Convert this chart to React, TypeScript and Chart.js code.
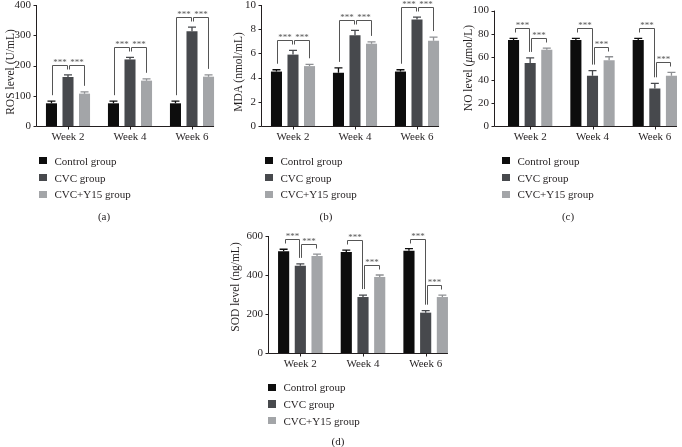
import React, { useEffect, useRef } from 'react';
import { Chart, registerables } from 'chart.js';

Chart.register(...registerables);

const FONT = '"Liberation Serif", "Times New Roman", serif';
const TEXT_COLOR = '#231f20';

const WEEKS = ['Week 2', 'Week 4', 'Week 6'];
const GROUPS = ['Control group', 'CVC group', 'CVC+Y15 group'];
const GROUP_COLORS = ['#0d0d0d', '#47494d', '#a3a5a8'];
const ERROR_COLORS = ['#0d0d0d', '#47494d', '#8e9093'];

// (a) ROS level (U/mL)
const ROS_CONTROL = [75, 75, 75];
const ROS_CVC = [162, 220, 313];
const ROS_Y15 = [107, 150, 163];
const ROS_ERR_CONTROL = [7, 7, 7];
const ROS_ERR_CVC = [7, 7, 14];
const ROS_ERR_Y15 = [6, 6, 6];

// (b) MDA (nmol/mL)
const MDA_CONTROL = [4.5, 4.4, 4.5];
const MDA_CVC = [5.9, 7.5, 8.8];
const MDA_Y15 = [4.95, 6.8, 7.05];
const MDA_ERR_CONTROL = [0.15, 0.4, 0.15];
const MDA_ERR_CVC = [0.35, 0.4, 0.2];
const MDA_ERR_Y15 = [0.15, 0.15, 0.3];

// (c) NO level (μmol/L)
const NO_CONTROL = [74.5, 74.5, 74.5];
const NO_CVC = [54.5, 43.5, 32.5];
const NO_Y15 = [66, 57, 43.5];
const NO_ERR_CONTROL = [1.5, 1.5, 1.5];
const NO_ERR_CVC = [4.5, 4.5, 4.5];
const NO_ERR_Y15 = [1.5, 3, 3];

// (d) SOD level (ng/mL)
const SOD_CONTROL = [522, 518, 525];
const SOD_CVC = [447, 287, 207];
const SOD_Y15 = [497, 390, 287];
const SOD_ERR_CONTROL = [10, 10, 10];
const SOD_ERR_CVC = [10, 10, 10];
const SOD_ERR_Y15 = [10, 10, 10];

// significance comparisons within each week (dataset index pairs)
const COMPARISONS = [[0, 1], [1, 2]];
const SIG_LABEL = '***';

const PANELS = [
  {
    key: 'a', title: <>ROS level (U/mL)</>, label: '(a)',
    values: [ROS_CONTROL, ROS_CVC, ROS_Y15], errors: [ROS_ERR_CONTROL, ROS_ERR_CVC, ROS_ERR_Y15],
    max: 400, step: 100,
    chartLeft: 37, chartRight: 223, chartTop: 5, chartBottom: 126, axisGap: 0,
    titleX: 10, titleY: 72, legendX: 39, legendY: 160.7, legendStep: 16.8, labelX: 104, labelY: 215.5,
  },
  {
    key: 'b', title: <>MDA (nmol/mL)</>, label: '(b)',
    values: [MDA_CONTROL, MDA_CVC, MDA_Y15], errors: [MDA_ERR_CONTROL, MDA_ERR_CVC, MDA_ERR_Y15],
    max: 10, step: 2,
    chartLeft: 262, chartRight: 448, chartTop: 5, chartBottom: 126, axisGap: 0,
    titleX: 238, titleY: 72, legendX: 265, legendY: 160.7, legendStep: 16.8, labelX: 326, labelY: 215.5,
  },
  {
    key: 'c', title: <>NO level (<i>μ</i>mol/L)</>, label: '(c)',
    values: [NO_CONTROL, NO_CVC, NO_Y15], errors: [NO_ERR_CONTROL, NO_ERR_CVC, NO_ERR_Y15],
    max: 100, step: 20,
    chartLeft: 499, chartRight: 686, chartTop: 10, chartBottom: 126, axisGap: 4,
    titleX: 468, titleY: 68, legendX: 502, legendY: 160.7, legendStep: 16.8, labelX: 568, labelY: 215.5,
  },
  {
    key: 'd', title: <>SOD level (ng/mL)</>, label: '(d)',
    values: [SOD_CONTROL, SOD_CVC, SOD_Y15], errors: [SOD_ERR_CONTROL, SOD_ERR_CVC, SOD_ERR_Y15],
    max: 600, step: 200,
    chartLeft: 269, chartRight: 457, chartTop: 236, chartBottom: 353, axisGap: 0,
    titleX: 235, titleY: 287, legendX: 268, legendY: 387.3, legendStep: 16.7, labelX: 338, labelY: 440.5,
  },
];

const prismPlugin = {
  id: 'prism',
  afterDatasetsDraw(chart: any, _args: any, opts: any) {
    const { ctx, chartArea } = chart;
    const xs = chart.scales.x;
    const ys = chart.scales.y;
    const axisX = chartArea.left - (opts.axisGap || 0) - 0.5;
    const yb = chartArea.bottom + 0.5;
    const tops: number[][] = [];
    ctx.save();
    // error bars (upper half only)
    chart.data.datasets.forEach((ds: any, di: number) => {
      const meta = chart.getDatasetMeta(di);
      tops[di] = [];
      meta.data.forEach((bar: any, i: number) => {
        const v = ds.data[i];
        const e = opts.errors[di][i];
        const yv = ys.getPixelForValue(v);
        const ye = ys.getPixelForValue(v + e);
        tops[di][i] = ye;
        ctx.strokeStyle = ERROR_COLORS[di];
        ctx.lineWidth = 1.3;
        ctx.beginPath();
        ctx.moveTo(bar.x, yv);
        ctx.lineTo(bar.x, ye);
        ctx.moveTo(bar.x - 4, ye);
        ctx.lineTo(bar.x + 4, ye);
        ctx.stroke();
      });
    });
    // axes
    const lastMeta = chart.getDatasetMeta(chart.data.datasets.length - 1);
    const lastBar: any = lastMeta.data[lastMeta.data.length - 1];
    const xEnd = lastBar.x + lastBar.width / 2;
    ctx.strokeStyle = TEXT_COLOR;
    ctx.lineWidth = 1;
    ctx.beginPath();
    ctx.moveTo(axisX, ys.top);
    ctx.lineTo(axisX, yb);
    ctx.lineTo(xEnd, yb);
    ys.ticks.forEach((t: any) => {
      const py = Math.round(ys.getPixelForValue(t.value)) + 0.5;
      ctx.moveTo(axisX - 3, py);
      ctx.lineTo(axisX, py);
    });
    xs.ticks.forEach((_t: any, i: number) => {
      const px = Math.round(xs.getPixelForValue(i)) + 0.5;
      ctx.moveTo(px, yb);
      ctx.lineTo(px, yb + 3);
    });
    ctx.stroke();
    // significance brackets
    ctx.strokeStyle = '#555';
    ctx.fillStyle = '#555';
    ctx.lineWidth = 1;
    ctx.font = `9px ${FONT}`;
    ctx.textAlign = 'center';
    ctx.textBaseline = 'alphabetic';
    const nCats = chart.data.labels.length;
    for (let i = 0; i < nCats; i++) {
      opts.comparisons.forEach(([a, b]: number[]) => {
        const barA: any = chart.getDatasetMeta(a).data[i];
        const barB: any = chart.getDatasetMeta(b).data[i];
        const xl = Math.round(barA.x + 1) + 0.5;
        const xr = Math.round(barB.x - 1) + 0.5;
        const yl = Math.round(Math.min(tops[a][i], tops[b][i]) - 10) + 0.5;
        const legA = Math.max(yl + 4, tops[a][i] - 6);
        const legB = Math.max(yl + 4, tops[b][i] - 6);
        ctx.beginPath();
        ctx.moveTo(xl, legA);
        ctx.lineTo(xl, yl);
        ctx.lineTo(xr, yl);
        ctx.lineTo(xr, legB);
        ctx.stroke();
        ctx.fillText(SIG_LABEL, (xl + xr) / 2, yl - 1);
      });
    }
    ctx.restore();
  },
};

const PAD_LEFT = 34;
const PAD_TOP = 16;
const PAD_RIGHT = 4;
const PAD_BOTTOM = 24;

function Panel({ p }: { p: any }) {
  const ref = useRef<HTMLCanvasElement>(null);
  const left = p.chartLeft - PAD_LEFT;
  const top = p.chartTop - PAD_TOP;
  const w = p.chartRight + PAD_RIGHT - left;
  const h = p.chartBottom + PAD_BOTTOM - top;

  useEffect(() => {
    const chart = new Chart(ref.current as HTMLCanvasElement, {
      type: 'bar',
      data: {
        labels: WEEKS,
        datasets: GROUPS.map((g, di) => ({
          label: g,
          data: p.values[di],
          backgroundColor: GROUP_COLORS[di],
          borderWidth: 0,
          categoryPercentage: 0.8,
          barPercentage: 0.667,
        })),
      },
      options: {
        responsive: false,
        animation: false,
        layout: { padding: { top: PAD_TOP, right: PAD_RIGHT, left: 0, bottom: 0 } },
        plugins: {
          legend: { display: false },
          tooltip: { enabled: false },
          prism: { errors: p.errors, axisGap: p.axisGap, comparisons: COMPARISONS },
        } as any,
        scales: {
          x: {
            type: 'category',
            grid: { display: false, drawTicks: false },
            border: { display: false },
            ticks: { font: { family: FONT, size: 11 }, color: TEXT_COLOR, padding: 5, maxRotation: 0, autoSkip: false },
            afterFit: (s: any) => { s.height = PAD_BOTTOM; },
          },
          y: {
            min: 0,
            max: p.max,
            grid: { display: false, drawTicks: false },
            border: { display: false },
            ticks: { stepSize: p.step, font: { family: FONT, size: 11 }, color: TEXT_COLOR, padding: p.axisGap + 6 },
            afterFit: (s: any) => { s.width = PAD_LEFT; },
          },
        },
      },
      plugins: [prismPlugin],
    } as any);
    return () => chart.destroy();
  }, []);

  return (
    <>
      <canvas ref={ref} width={w} height={h} style={{ position: 'absolute', left, top, width: w, height: h }} />
      <div
        style={{
          position: 'absolute', left: p.titleX, top: p.titleY, whiteSpace: 'nowrap',
          transform: 'translate(-50%, -50%) rotate(-90deg)', fontSize: 11.5, lineHeight: '14px',
        }}
      >
        {p.title}
      </div>
      {GROUPS.map((g, di) => (
        <React.Fragment key={g}>
          <div
            style={{
              position: 'absolute', left: p.legendX, top: p.legendY + di * p.legendStep - 3.75,
              width: 7.5, height: 7.5, background: GROUP_COLORS[di],
            }}
          />
          <div
            style={{
              position: 'absolute', left: p.legendX + 15.5, top: p.legendY + di * p.legendStep - 7,
              fontSize: 11, lineHeight: '14px', whiteSpace: 'nowrap',
            }}
          >
            {g}
          </div>
        </React.Fragment>
      ))}
      <div
        style={{
          position: 'absolute', left: p.labelX, top: p.labelY, transform: 'translate(-50%, -50%)',
          fontSize: 11, lineHeight: '14px', whiteSpace: 'nowrap',
        }}
      >
        {p.label}
      </div>
    </>
  );
}

export default function App() {
  return (
    <div
      style={{
        position: 'absolute', left: 0, top: 0, width: 682, height: 447, overflow: 'hidden',
        background: '#fff', fontFamily: FONT, color: TEXT_COLOR,
      }}
    >
      {PANELS.map((p) => (
        <Panel key={p.key} p={p} />
      ))}
    </div>
  );
}
